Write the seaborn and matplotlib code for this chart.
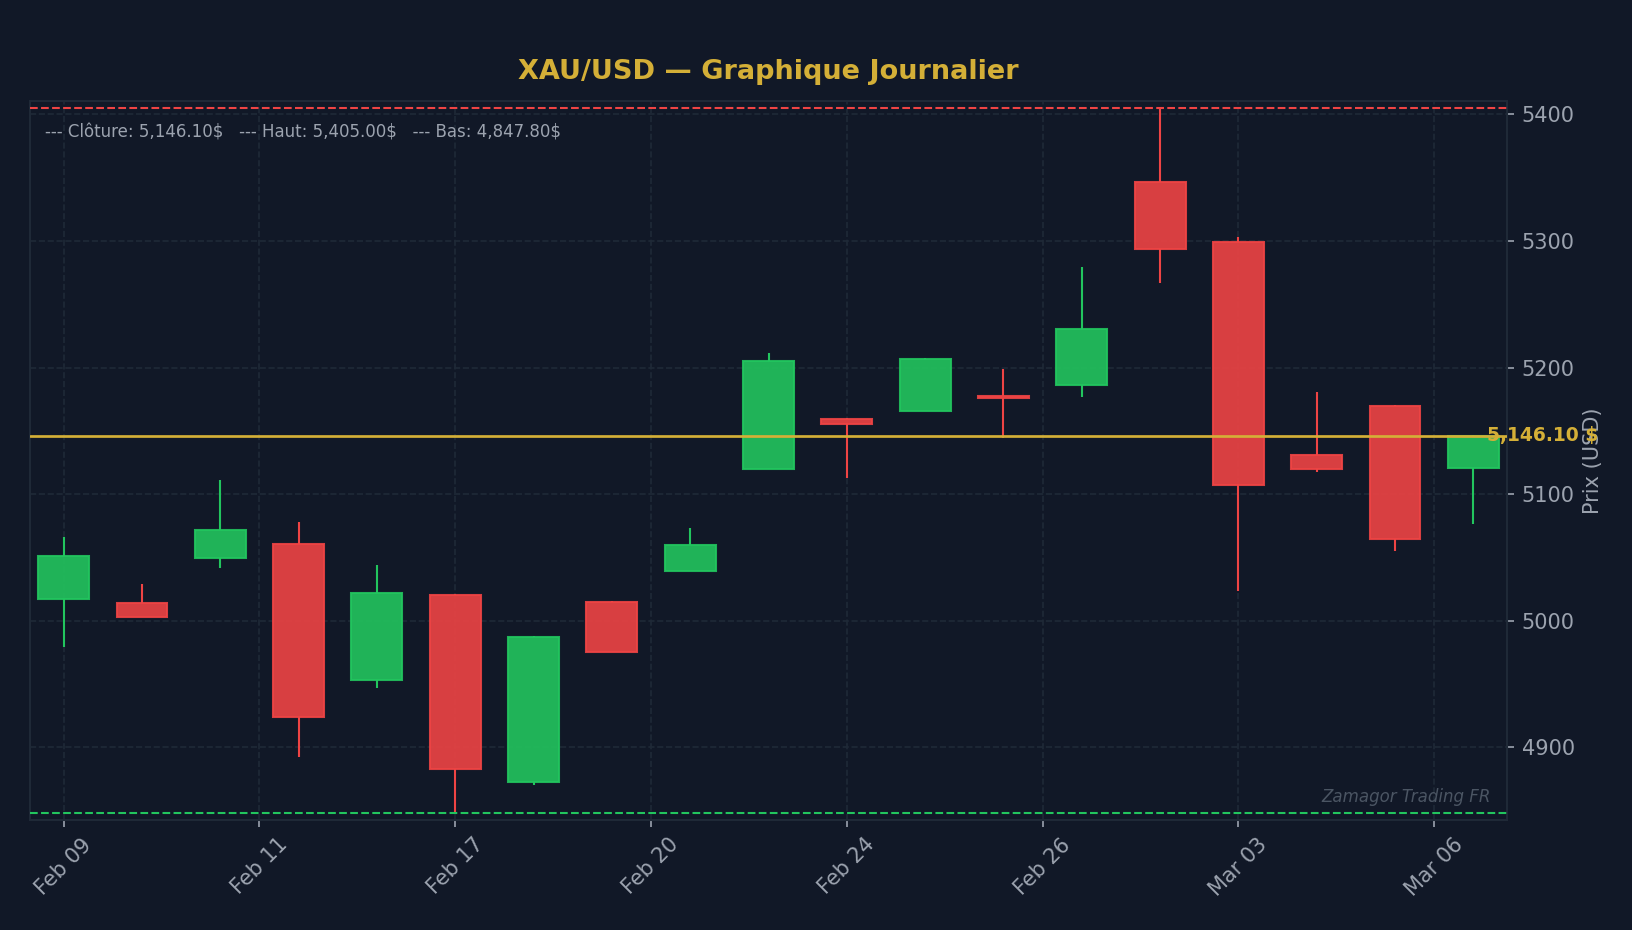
import numpy as np
import pandas as pd
import matplotlib
matplotlib.use("Agg")
import matplotlib.pyplot as plt
import matplotlib.transforms as mtransforms
import seaborn as sns

# ---- data ----
dates = ["2026-02-09", "2026-02-10", "2026-02-11", "2026-02-12", "2026-02-13",
         "2026-02-17", "2026-02-18", "2026-02-19", "2026-02-20", "2026-02-23",
         "2026-02-24", "2026-02-25", "2026-02-26", "2026-02-27", "2026-03-02",
         "2026-03-03", "2026-03-04", "2026-03-05", "2026-03-06"]
opens  = [5017.4, 5014.2, 5049.8, 5060.8, 4952.9, 5020.6, 4872.2, 5015.1, 5039.5, 5120.1,
          5159.5, 5165.8, 5177.7, 5186.4, 5346.6, 5299.2, 5131.1, 5169.8, 5120.8]
highs  = [5065.8, 5028.7, 5110.8, 5077.7, 5043.7, 5021.0, 4988.0, 5015.5, 5072.9, 5211.1,
          5160.0, 5207.5, 5199.2, 5279.8, 5405.0, 5303.4, 5180.3, 5170.3, 5146.5]
lows   = [4979.2, 5002.5, 5041.6, 4892.4, 4946.9, 4847.8, 4870.5, 4975.0, 5039.0, 5119.5,
          5112.6, 5165.3, 5144.2, 5176.6, 5266.6, 5023.5, 5117.4, 5055.0, 5076.3]
closes = [5051.1, 5003.2, 5071.9, 4923.5, 5022.2, 4882.4, 4987.4, 4975.6, 5060.1, 5205.3,
          5155.6, 5206.9, 5176.3, 5230.6, 5293.7, 5107.4, 5120.1, 5064.8, 5146.1]
yticks = [4900, 5000, 5100, 5200, 5300, 5400]

df = pd.DataFrame({"date": pd.to_datetime(dates), "open": opens, "high": highs,
                   "low": lows, "close": closes})
df["x"] = np.arange(len(df))
df["up"] = df["close"] >= df["open"]

last_close = df["close"].iloc[-1]
top_high = df["high"].max()
bottom_low = df["low"].min()

# ---- colours ----
bg = "#111827"
grid_c = "#1f2937"
txt_c = "#9ca3af"
green = "#22c55e"
red = "#ef4444"
gold = "#d4af37"

sns.set_theme(style="dark", rc={
    "axes.facecolor": bg, "figure.facecolor": bg, "axes.edgecolor": grid_c,
    "xtick.color": txt_c, "ytick.color": txt_c, "axes.labelcolor": txt_c,
    "text.color": txt_c,
})
plt.rcParams["font.family"] = ["DejaVu Sans"]

fig = plt.figure(figsize=(10.88, 6.2), dpi=150)
ax = fig.add_axes([0.0184, 0.1183, 0.905, 0.773])

cols = np.where(df["up"], green, red)
body_lo = np.minimum(df["open"], df["close"])
body_hi = np.maximum(df["open"], df["close"])
body_h = body_hi - body_lo

# wicks only outside the body so they don't show through
ax.vlines(df["x"], body_hi, df["high"], colors=cols, linewidth=1.0, zorder=2)
ax.vlines(df["x"], df["low"], body_lo, colors=cols, linewidth=1.0, zorder=2)
ax.bar(df["x"], body_h, bottom=body_lo, width=0.65, color=cols, alpha=0.9,
       edgecolor=cols, linewidth=1.0, zorder=3)

ax.axhline(top_high, color=red, linestyle="--", linewidth=1.0, zorder=4)
ax.axhline(bottom_low, color=green, linestyle="--", linewidth=1.0, zorder=4)
ax.axhline(last_close, color=gold, linestyle="-", linewidth=1.3, zorder=5)

ax.set_xlim(-0.43, len(df) - 1 + 0.43)
ax.set_ylim(4842.5, 5410.5)

tick_pos = np.arange(0, len(df), 2.5)
tick_lab = [df["date"].iloc[int(round(p))].strftime("%b %d") for p in tick_pos]
ax.set_xticks(tick_pos)
ax.set_xticklabels(tick_lab, rotation=45, ha="center")
ax.set_yticks(yticks)
ax.yaxis.tick_right()
ax.yaxis.set_label_position("right")
ax.set_ylabel("Prix (USD)", fontsize=10, color=txt_c)
ax.tick_params(axis="both", labelsize=10, colors=txt_c, length=3.5, width=0.8,
               bottom=True, right=True, left=False)

ax.grid(True, color=grid_c, linestyle="--", linewidth=0.8)
for s in ax.spines.values():
    s.set_visible(True)
    s.set_color(grid_c)
    s.set_linewidth(1.0)

ax.set_title("XAU/USD — Graphique Journalier", fontsize=13, fontweight="bold",
             color=gold, pad=10.5)

info = (f"--- Clôture: {last_close:,.2f}$   --- Haut: {top_high:,.2f}$   "
        f"--- Bas: {bottom_low:,.2f}$")
ax.text(0.010, 0.957, info, transform=ax.transAxes, fontsize=8, color=txt_c,
        va="center", ha="left", zorder=6)

trans = mtransforms.blended_transform_factory(ax.transAxes, ax.transData)
ax.text(0.9863, last_close, f"{last_close:,.2f} $", transform=trans, fontsize=9,
        fontweight="bold", color=gold, va="center", ha="left", clip_on=False, zorder=7)

ax.text(0.989, 0.032, "Zamagor Trading FR", transform=ax.transAxes, fontsize=8,
        style="italic", color="#4b5563", ha="right", va="center", zorder=6)

fig.savefig("out.png", dpi=150, facecolor=bg)
